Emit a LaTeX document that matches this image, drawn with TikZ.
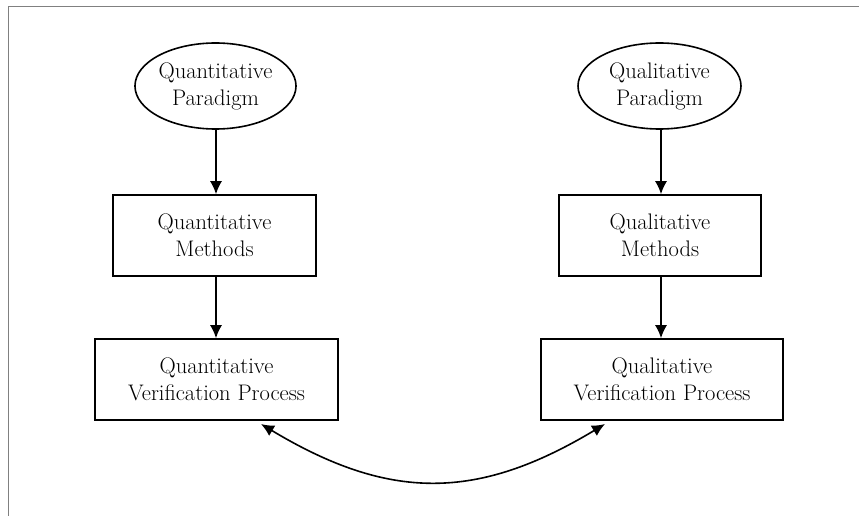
\documentclass[tikz,border=0pt]{standalone}
\usetikzlibrary{arrows.meta,shapes.geometric}
\begin{document}
\begin{tikzpicture}[x=1pt,y=-1pt,
  every node/.style={font=\fontsize{22.5}{27}\selectfont, align=center, inner sep=0pt},
  oval/.style={ellipse, draw, line width=1.6pt},
  boxnode/.style={rectangle, draw, line width=1.6pt, minimum height=81pt},
  arr/.style={line width=1.6pt, -{Latex[length=13pt,width=12pt]}},
  dbl/.style={line width=1.6pt, {Latex[length=13pt,width=12pt]}-{Latex[length=13pt,width=12pt]}},
  frameline/.style={draw=gray, line width=1pt}]
\useasboundingbox (0,0) rectangle (859,516);
\draw[frameline] (8,516) -- (8,6.5) -- (859,6.5);
\node[oval, minimum width=161pt, minimum height=86pt] (le) at (215.5,86) {Quantitative\\Paradigm};
\node[oval, minimum width=163pt, minimum height=86pt] (re) at (659.5,86) {Qualitative\\Paradigm};
\node[boxnode, minimum width=203pt] (lm) at (214.5,235.5) {Quantitative\\Methods};
\node[boxnode, minimum width=202pt] (rm) at (660,235.5) {Qualitative\\Methods};
\node[boxnode, minimum width=243pt] (lv) at (216.5,379.5) {Quantitative\\Verification Process};
\node[boxnode, minimum width=242pt] (rv) at (662,379.5) {Qualitative\\Verification Process};
\draw[arr] (le.south -| 216,0) -- (216,0 |- lm.north);
\draw[arr] (re.south -| 661,0) -- (661,0 |- rm.north);
\draw[arr] (lm.south -| 216,0) -- (216,0 |- lv.north);
\draw[arr] (rm.south -| 661,0) -- (661,0 |- rv.north);
\coordinate (ca) at (261,424);
\coordinate (cb) at (605,424);
\draw[dbl] (ca) .. controls (389,501) and (477,501) .. (cb);
\end{tikzpicture}
\end{document}
